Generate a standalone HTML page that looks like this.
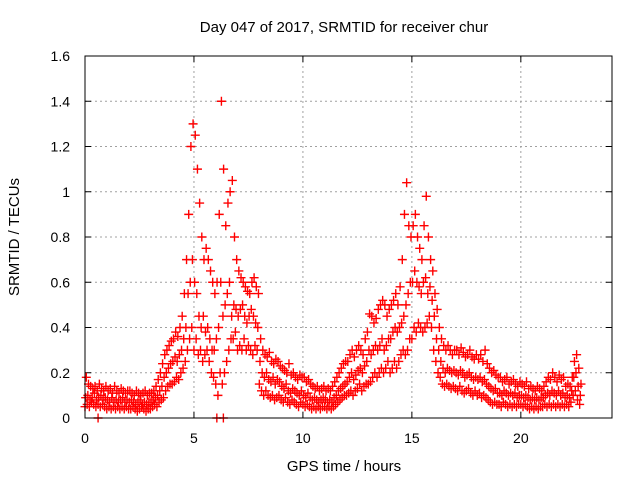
<!DOCTYPE html>
<html><head><meta charset="utf-8"><style>
body{margin:0;background:#fff}
svg{display:block;font-family:"Liberation Sans",sans-serif}
</style></head><body>
<svg id="chart" width="640" height="480" viewBox="0 0 640 480" xmlns="http://www.w3.org/2000/svg">
<text x="344" y="32" font-size="15" text-anchor="middle">Day 047 of 2017, SRMTID for receiver chur</text>
<text transform="translate(19,237) rotate(-90)" font-size="15" text-anchor="middle">SRMTID / TECUs</text>
<text x="344" y="471" font-size="15" text-anchor="middle">GPS time / hours</text>
<g id="grid"></g><g id="ticks"></g><g id="marks"></g>
<rect x="85" y="56" width="527" height="362" fill="none" stroke="#000" stroke-width="1"/>
</svg>
<script>
const xTicks=[0,5,10,15,20];
const yTicks=[0,0.2,0.4,0.6,0.8,1,1.2,1.4,1.6];
const yTickLabels=["0","0.2","0.4","0.6","0.8","1","1.2","1.4","1.6"];
const xStart=0, xStep=0.1;
const seriesLow=[.05,.06,.05,.07,.06,.05,.06,.05,.06,.05,.04,.05,.04,.05,.04,.05,.04,.05,.04,.05,.04,.04,.05,.04,.03,.04,.05,.04,.03,.04,.04,.05,.06,.05,.07,.08,.09,.12,.14,.15,.15,.16,.18,.17,.20,.22,.25,.30,.35,.40,.30,.35,.28,.30,.25,.28,.30,.25,.20,.18,.15,.10,.20,.15,.20,.25,.30,.35,.35,.38,.30,.32,.30,.35,.30,.32,.30,.28,.32,.30,.15,.12,.10,.12,.10,.09,.10,.08,.09,.10,.08,.07,.09,.07,.06,.08,.07,.06,.05,.07,.06,.05,.06,.05,.04,.05,.04,.05,.04,.05,.05,.04,.05,.04,.05,.06,.07,.08,.09,.10,.10,.11,.12,.10,.12,.13,.15,.12,.14,.15,.15,.16,.18,.20,.18,.20,.22,.20,.22,.25,.20,.22,.25,.22,.25,.28,.30,.28,.30,.35,.35,.40,.38,.42,.40,.38,.40,.42,.45,.40,.30,.25,.20,.18,.15,.14,.15,.14,.13,.14,.13,.12,.14,.12,.11,.12,.13,.11,.10,.12,.10,.11,.09,.10,.09,.08,.07,.06,.07,.06,.06,.05,.07,.06,.05,.06,.05,.06,.05,.06,.06,.05,.06,.05,.04,.05,.04,.05,.04,.05,.05,.06,.05,.06,.05,.06,.05,.06,.05,.06,.05,.06,.05,.07,.10,.12,.08,.06];
const seriesMid=[.09,.10,.08,.09,.11,.08,.09,.10,.08,.09,.08,.07,.09,.07,.08,.07,.08,.09,.07,.08,.07,.08,.07,.06,.07,.08,.06,.07,.06,.07,.07,.08,.09,.10,.12,.14,.18,.20,.22,.24,.25,.27,.25,.28,.30,.35,.40,.55,.60,.70,.60,.55,.45,.40,.45,.38,.40,.35,.30,.30,.35,.40,.60,.45,.50,.55,.60,.45,.50,.48,.45,.48,.50,.45,.42,.45,.48,.45,.42,.40,.25,.20,.18,.20,.17,.16,.18,.15,.17,.16,.14,.13,.15,.12,.11,.13,.12,.11,.10,.12,.10,.09,.11,.09,.08,.09,.08,.07,.08,.09,.08,.07,.08,.07,.09,.10,.12,.13,.14,.15,.16,.18,.20,.17,.19,.21,.22,.20,.23,.25,.30,.28,.30,.32,.30,.32,.35,.30,.32,.35,.35,.38,.40,.38,.40,.42,.45,.50,.55,.60,.60,.65,.60,.58,.55,.60,.62,.55,.58,.52,.45,.35,.30,.25,.22,.20,.22,.21,.20,.21,.20,.19,.21,.20,.18,.19,.20,.18,.17,.18,.17,.18,.16,.17,.15,.14,.13,.12,.13,.11,.11,.10,.12,.11,.10,.11,.10,.11,.09,.10,.10,.09,.10,.09,.08,.09,.08,.09,.08,.09,.09,.10,.11,.10,.12,.11,.10,.12,.10,.11,.09,.10,.09,.12,.18,.20,.14,.10];
const seriesHigh=[.18,.15,.14,.13,.14,.12,.15,.13,.12,.14,.12,.13,.11,.14,.12,.11,.13,.12,.11,.12,.12,.11,.10,.12,.11,.10,.11,.12,.10,.11,.11,.12,.14,.17,.20,.24,.28,.30,.32,.34,.35,.38,.36,.40,.45,.55,.70,.90,1.20,1.30,1.25,1.10,.95,.80,.70,.75,.70,.65,.60,.55,.60,.90,1.40,1.10,.85,.95,1.00,1.05,.80,.70,.65,.62,.60,.58,.56,.55,.60,.62,.58,.55,.35,.30,.28,.27,.29,.25,.24,.26,.25,.23,.22,.21,.20,.24,.19,.20,.18,.17,.19,.18,.18,.16,.17,.15,.14,.13,.14,.12,.13,.14,.12,.13,.12,.14,.16,.18,.20,.22,.24,.25,.25,.28,.30,.27,.30,.32,.30,.28,.35,.38,.46,.45,.42,.44,.48,.50,.52,.50,.45,.48,.50,.52,.55,.50,.58,.70,.90,1.04,.85,.80,.85,.90,.80,.75,.70,.85,.98,.80,.70,.65,.55,.48,.40,.35,.32,.30,.32,.30,.28,.30,.30,.28,.31,.29,.27,.28,.30,.27,.26,.28,.26,.28,.25,.30,.24,.22,.20,.21,.19,.18,.18,.16,.17,.18,.15,.16,.17,.15,.14,.16,.15,.14,.16,.13,.14,.13,.12,.14,.13,.12,.14,.16,.18,.17,.20,.18,.16,.19,.17,.18,.14,.15,.14,.18,.25,.28,.22,.15];
const outlierX=[0.6,6.05,6.35];
const outlierY=[0,0,0];
const NS="http://www.w3.org/2000/svg";
const xs=v=>85+v*(523/24), ys=v=>418-v*(362/1.6);
function mk(t,a){const e=document.createElementNS(NS,t);for(const k in a)e.setAttribute(k,a[k]);return e;}
const grid=document.getElementById('grid'),ticks=document.getElementById('ticks'),marks=document.getElementById('marks');
yTicks.forEach((v,i)=>{const y=ys(v);
 if(i>0&&i<yTicks.length-1){const g=mk('line',{x1:85,x2:612,y1:y,y2:y,stroke:'#a0a0a0','stroke-dasharray':'2,3'});
 
 grid.appendChild(g);}
 const t=mk('text',{x:70,y:y+5,'font-size':14,'text-anchor':'end'});t.textContent=yTickLabels[i];
 
 ticks.appendChild(t);
 ticks.appendChild(mk('line',{x1:85,x2:91,y1:y,y2:y,stroke:'#000'}));
 ticks.appendChild(mk('line',{x1:606,x2:612,y1:y,y2:y,stroke:'#000'}));});
xTicks.forEach(v=>{const x=xs(v);
 if(v>0){const g=mk('line',{x1:x,x2:x,y1:56,y2:418,stroke:'#a0a0a0','stroke-dasharray':'2,3'});
 
 grid.appendChild(g);}
 const t=mk('text',{x:x,y:443,'font-size':14,'text-anchor':'middle'});t.textContent=String(v);
 
 ticks.appendChild(t);
 ticks.appendChild(mk('line',{x1:x,x2:x,y1:412,y2:418,stroke:'#000'}));
 ticks.appendChild(mk('line',{x1:x,x2:x,y1:56,y2:62,stroke:'#000'}));});
function plus(xv,yv){const x=xs(xv),y=ys(yv);
 const p=mk('path',{d:`M${x-4.5},${y}h9M${x},${y-4.5}v9`,stroke:'#ff0000','stroke-width':1.4,fill:'none'});
 
 marks.appendChild(p);}
[seriesLow,seriesMid,seriesHigh].forEach((arr,k)=>arr.forEach((v,i)=>{plus(xStart+i*xStep+k*0.03,v);}));
outlierX.forEach((xv,i)=>plus(xv,outlierY[i]));
</script>
</body></html>
